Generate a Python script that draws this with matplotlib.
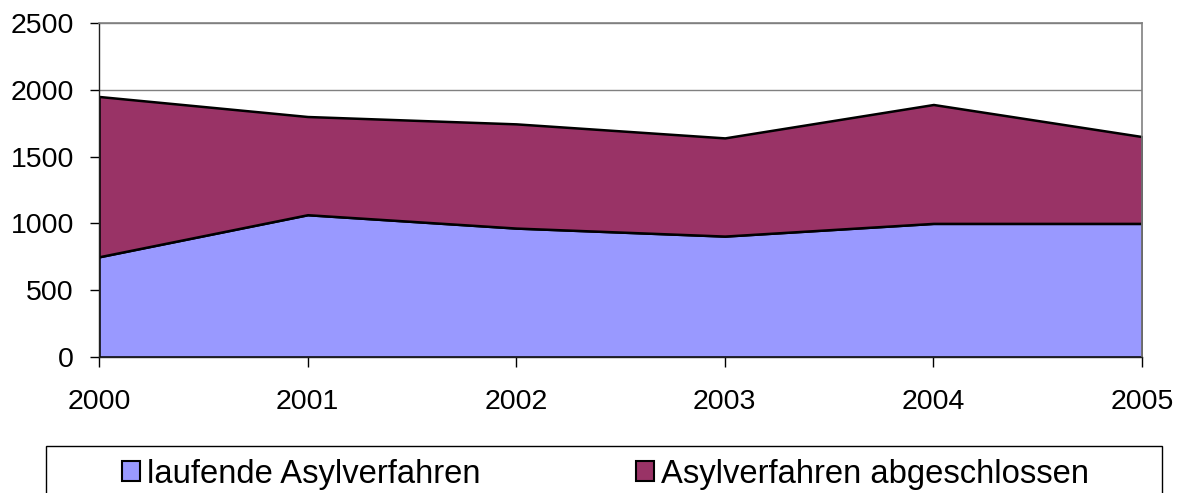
import matplotlib
matplotlib.use("Agg")
import matplotlib.pyplot as plt
from matplotlib.patches import Rectangle

years = [2000, 2001, 2002, 2003, 2004, 2005]
laufende = [750, 1065, 965, 905, 1000, 1000]
abgeschlossen = [1200, 735, 780, 735, 890, 650]
series_labels = ["laufende Asylverfahren", "Asylverfahren abgeschlossen"]
colors = ["#9999FF", "#993366"]
y_ticks = [0, 500, 1000, 1500, 2000, 2500]

plt.rcParams['font.family'] = ['Liberation Sans', 'DejaVu Sans']

W, H = 1181, 493
fig = plt.figure(figsize=(W / 100, H / 100), dpi=100)
ax = fig.add_axes([99 / W, 1 - 357 / H, (1142 - 99) / W, (357 - 23) / H])

polys = ax.stackplot(years, laufende, abgeschlossen, colors=colors,
                     edgecolor='black', linewidth=1.8, labels=series_labels)

ax.set_xlim(years[0], years[-1])
ax.set_ylim(0, 2500)
ax.set_xticks(years)
ax.set_yticks(y_ticks)
ax.yaxis.grid(True, color='#808080', linewidth=1.0)
ax.set_axisbelow(True)

for s in ['top', 'right']:
    ax.spines[s].set_color('#808080')
    ax.spines[s].set_linewidth(1.2)
for s in ['left', 'bottom']:
    ax.spines[s].set_color('#202020')
    ax.spines[s].set_linewidth(1.0)

ax.tick_params(axis='y', direction='out', length=6.5, width=1.0, pad=11.5,
               labelsize=20.5, colors='black')
ax.tick_params(axis='x', direction='out', length=7, width=1.0, pad=16,
               labelsize=20.5, colors='black')

# legend box (extends beyond the bottom of the figure)
box = Rectangle((46 / W, 1 - 515 / H), (1162 - 46) / W, (515 - 446) / H,
                transform=fig.transFigure, facecolor='white', edgecolor='black',
                linewidth=1.0, clip_on=False)
fig.patches.append(box)

handles = [Rectangle((0, 0), 1, 1, facecolor=c, edgecolor='black', linewidth=1.5)
           for c in colors]
leg = fig.legend(handles, series_labels, loc='center',
                 bbox_to_anchor=(605.5 / W, 1 - 474 / H), ncol=2, frameon=False,
                 fontsize=23.6, handlelength=0.55, handleheight=0.6,
                 handletextpad=0.2, columnspacing=4.75, borderpad=0.0)

fig.savefig("out.png", dpi=100)
